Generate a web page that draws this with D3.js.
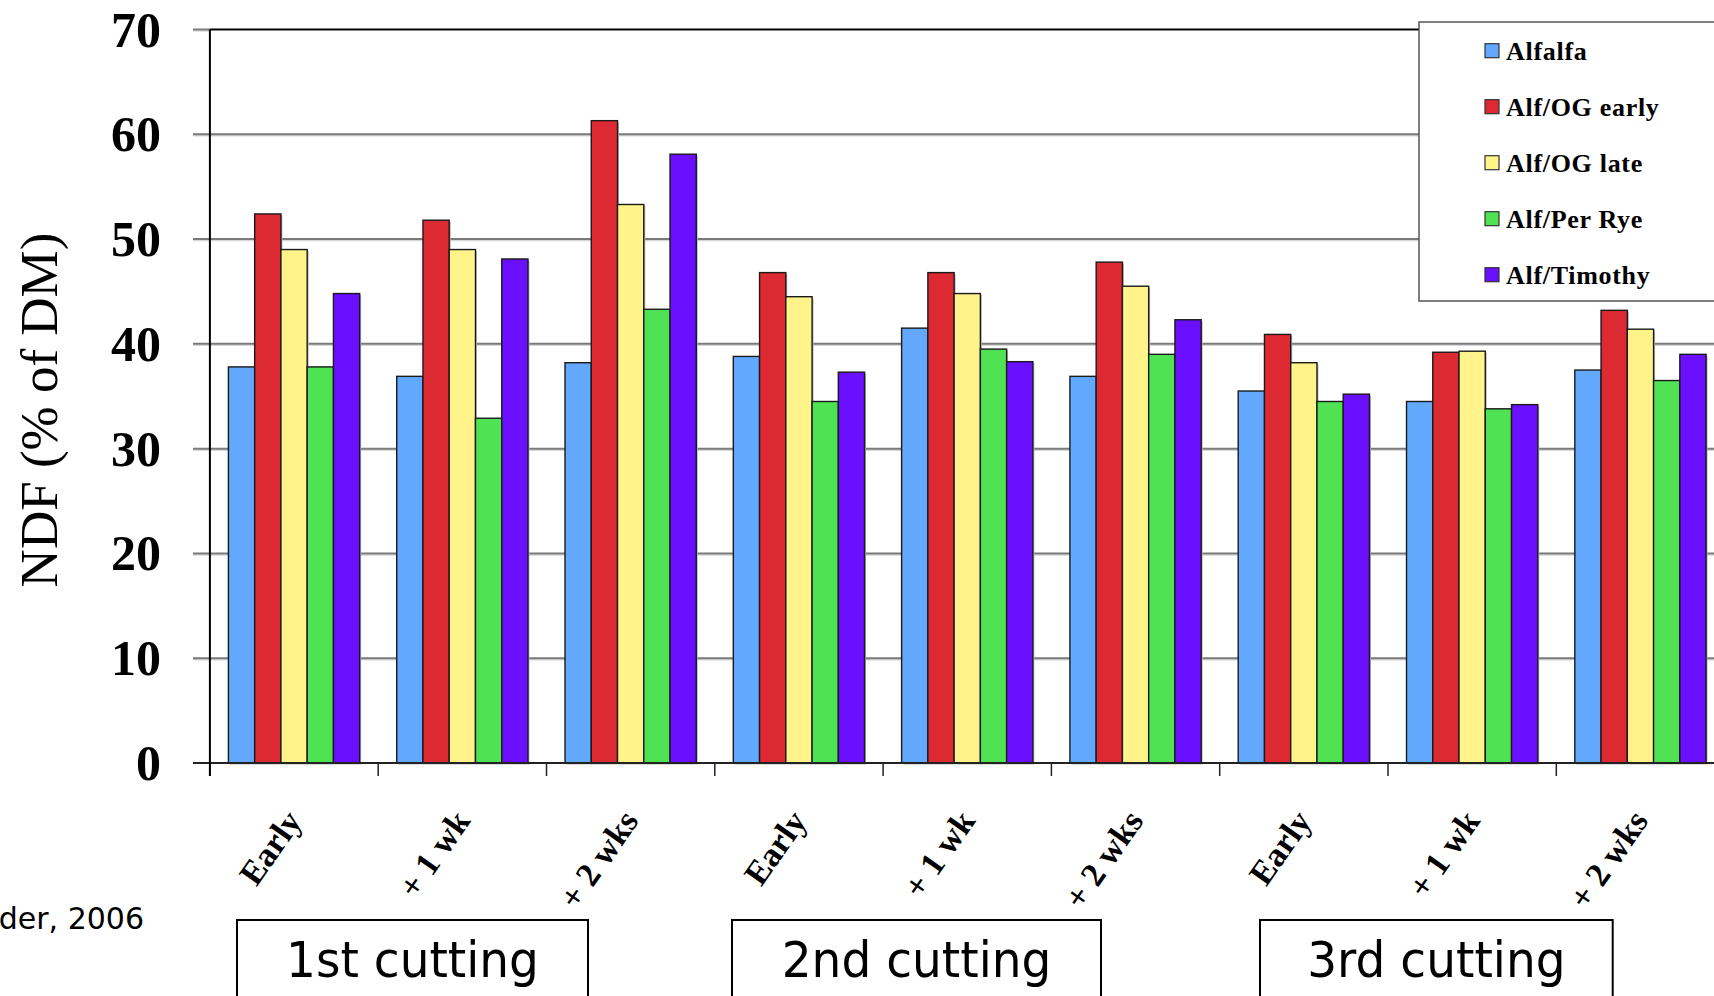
<!DOCTYPE html>
<html>
<head>
<meta charset="utf-8">
<script src="https://cdn.jsdelivr.net/npm/d3@7/dist/d3.min.js"></script>
<style>
  html, body { margin: 0; padding: 0; background: #fff; overflow: hidden; }
  svg { display: block; }
</style>
</head>
<body>
<svg id="chart" width="1714" height="996"></svg>
<script>
// ---- data ----
const categories = ["Early", "+ 1 wk", "+ 2 wks", "Early", "+ 1 wk", "+ 2 wks", "Early", "+ 1 wk", "+ 2 wks"];
const seriesNames = ["Alfalfa", "Alf/OG early", "Alf/OG late", "Alf/Per Rye", "Alf/Timothy"];
const alfalfa = [37.8, 36.9, 38.2, 38.8, 41.5, 36.9, 35.5, 34.5, 37.5];
const alfOgEarly = [52.4, 51.8, 61.3, 46.8, 46.8, 47.8, 40.9, 39.2, 43.2];
const alfOgLate = [49.0, 49.0, 53.3, 44.5, 44.8, 45.5, 38.2, 39.3, 41.4];
const alfPerRye = [37.8, 32.9, 43.3, 34.5, 39.5, 39.0, 34.5, 33.8, 36.5];
const alfTimothy = [44.8, 48.1, 58.1, 37.3, 38.3, 42.3, 35.2, 34.2, 39.0];
const yTicks = [0, 10, 20, 30, 40, 50, 60, 70];
const cuttings = ["1st cutting", "2nd cutting", "3rd cutting"];
const yTitle = "NDF (% of DM)";
const sourceText = "der, 2006";

const seriesValues = [alfalfa, alfOgEarly, alfOgLate, alfPerRye, alfTimothy];
const colors = ["#62A8FF", "#DD2A32", "#FFF38A", "#4FE354", "#6A0FFF"];

// ---- layout ----
const svg = d3.select("#chart");
const plotLeft = 209.9, step = 168.3;
const y0 = 763, yTop = 29.5;

const x = d3.scaleBand()
  .domain(d3.range(categories.length))
  .range([plotLeft, plotLeft + step * categories.length])
  .paddingInner(0.22)
  .paddingOuter(0.11);
const xs = d3.scaleBand().domain(seriesNames).range([0, x.bandwidth()]).padding(0);
const y = d3.scaleLinear().domain([0, 70]).range([y0, yTop]);

const serif = "'Liberation Serif', 'Times New Roman', serif";
const sans = "'DejaVu Sans', Verdana, sans-serif";

// gridlines
const grid = svg.append("g");
yTicks.filter(t => t > 0).forEach(t => {
  grid.append("line")
    .attr("x1", 193).attr("x2", t === 70 ? plotLeft : 1714)
    .attr("y1", y(t) + 1.5).attr("y2", y(t) + 1.5)
    .attr("stroke", "#d8d8d8").attr("stroke-width", 1.5);
  grid.append("line")
    .attr("x1", 193).attr("x2", t === 70 ? plotLeft : 1714)
    .attr("y1", y(t)).attr("y2", y(t))
    .attr("stroke", "#7a7a7a").attr("stroke-width", 2);
});
// top border
svg.append("line")
  .attr("x1", plotLeft).attr("x2", 1714)
  .attr("y1", y(70)).attr("y2", y(70))
  .attr("stroke", "#000").attr("stroke-width", 2);

// bars
const groups = svg.append("g").selectAll("g")
  .data(d3.range(categories.length))
  .join("g")
  .attr("transform", i => `translate(${x(i)},0)`);

groups.selectAll("rect.shadow")
  .data(i => seriesNames.map((s, k) => ({ s, k, v: seriesValues[k][i] })))
  .join("rect")
  .attr("class", "shadow")
  .attr("x", d => xs(d.s) + 1.5)
  .attr("y", d => y(d.v) + 1.5)
  .attr("width", xs.bandwidth())
  .attr("height", d => y0 - y(d.v))
  .attr("fill", "#bbb");

groups.selectAll("rect.bar")
  .data(i => seriesNames.map((s, k) => ({ s, k, v: seriesValues[k][i] })))
  .join("rect")
  .attr("class", "bar")
  .attr("x", d => xs(d.s))
  .attr("y", d => y(d.v))
  .attr("width", xs.bandwidth())
  .attr("height", d => y0 - y(d.v))
  .attr("fill", d => colors[d.k])
  .attr("stroke", "#1a1a1a")
  .attr("stroke-width", 1.4);

// x axis line + ticks
svg.append("line")
  .attr("x1", 193).attr("x2", 1714)
  .attr("y1", y0).attr("y2", y0)
  .attr("stroke", "#222").attr("stroke-width", 2);
d3.range(categories.length + 1).forEach(i => {
  const tx = plotLeft + i * x.step();
  svg.append("line")
    .attr("x1", tx).attr("x2", tx)
    .attr("y1", y0).attr("y2", y0 + 13)
    .attr("stroke", "#222").attr("stroke-width", 1.5);
});
// y axis line
svg.append("line")
  .attr("x1", plotLeft).attr("x2", plotLeft)
  .attr("y1", yTop).attr("y2", y0 + 13)
  .attr("stroke", "#000").attr("stroke-width", 2);

// y tick labels
svg.append("g").selectAll("text")
  .data(yTicks)
  .join("text")
  .attr("x", 161)
  .attr("y", d => y(d) + 17)
  .attr("text-anchor", "end")
  .attr("font-family", serif)
  .attr("font-weight", "bold")
  .attr("font-size", 50)
  .text(d => d);

// y title
svg.append("text")
  .attr("transform", "translate(57,410) rotate(-90)")
  .attr("text-anchor", "middle")
  .attr("font-family", serif)
  .attr("font-size", 53)
  .text(yTitle);

// x labels
svg.append("g").selectAll("text")
  .data(categories.map((c, i) => ({ c, i })))
  .join("text")
  .attr("transform", d => `translate(${x(d.i) + x.bandwidth() / 2 + 9},821) rotate(-55)`)
  .attr("text-anchor", "end")
  .attr("font-family", serif)
  .attr("font-weight", "bold")
  .attr("font-size", 34)
  .text(d => d.c);

// cutting boxes
const boxes = [[237, 588], [732, 1101], [1260, 1612.7]];
cuttings.forEach((c, k) => {
  const [bx1, bx2] = boxes[k];
  svg.append("rect")
    .attr("x", bx1).attr("y", 920)
    .attr("width", bx2 - bx1).attr("height", 90)
    .attr("fill", "#fff").attr("stroke", "#000").attr("stroke-width", 2);
  svg.append("text")
    .attr("transform", `translate(${(bx1 + bx2) / 2},977) scale(0.94,1)`)
    .attr("text-anchor", "middle")
    .attr("font-family", sans)
    .attr("font-size", 50)
    .text(c);
});

// source text
svg.append("text")
  .attr("x", 144).attr("y", 929)
  .attr("text-anchor", "end")
  .attr("font-family", sans)
  .attr("font-size", 30)
  .text(sourceText);

// legend
const lg = svg.append("g");
lg.append("rect")
  .attr("x", 1419).attr("y", 22)
  .attr("width", 400).attr("height", 279)
  .attr("fill", "#fff").attr("stroke", "#555").attr("stroke-width", 1.5);
seriesNames.forEach((s, k) => {
  const cy = 50.7 + k * 56;
  lg.append("rect")
    .attr("x", 1485).attr("y", cy - 7)
    .attr("width", 14).attr("height", 14)
    .attr("fill", colors[k]).attr("stroke", "#333").attr("stroke-width", 1.2);
  lg.append("text")
    .attr("x", 1506).attr("y", cy + 9)
    .attr("font-family", serif)
    .attr("font-weight", "bold")
    .attr("font-size", 26)
    .attr("letter-spacing", 0.7)
    .text(s);
});
</script>
</body>
</html>
